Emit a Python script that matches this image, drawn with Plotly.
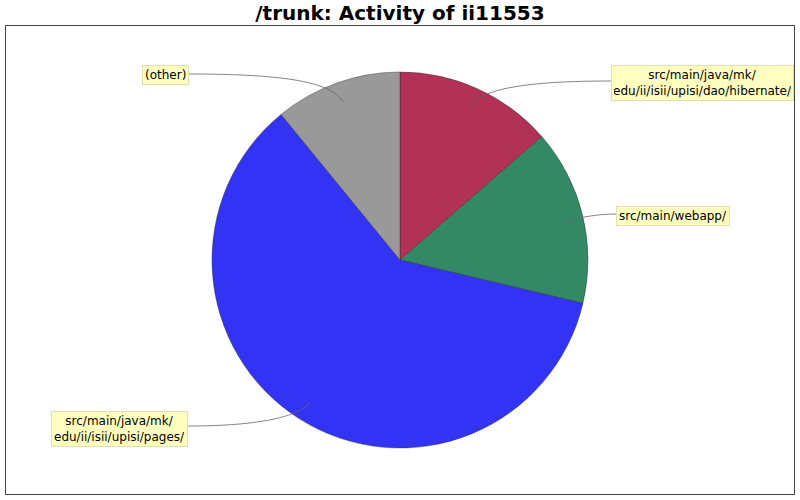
import plotly.graph_objects as go

# slice data (clockwise from 12 o'clock)
labels = [
    'src/main/java/mk/<br>edu/ii/isii/upisi/dao/hibernate/',
    'src/main/webapp/',
    'src/main/java/mk/<br>edu/ii/isii/upisi/pages/',
    '(other)',
]
values = [13.6, 15.1, 60.4, 10.9]
colors = ['#b23257', '#338866', '#3333f5', '#999999']

W, H = 800, 500
cx, cy, r = 400, 260, 188

fig = go.Figure()

fig.add_trace(go.Pie(
    labels=labels, values=values, sort=False, direction='clockwise', rotation=0,
    marker=dict(colors=colors, line=dict(color='rgba(40,40,40,0.7)', width=0.6)),
    textinfo='none', hoverinfo='label+percent', showlegend=False,
    domain=dict(x=[(cx - r) / W, (cx + r) / W], y=[1 - (cy + r) / H, 1 - (cy - r) / H]),
))

# empty trace so there is a pixel-like xy axis for labels and connectors
fig.add_trace(go.Scatter(x=[], y=[], showlegend=False))

# label boxes: (text, x, y, anchor, box width) and connector curves
label_pos = [
    (labels[0], 611, 65, 'left', 177),
    (labels[1], 616, 206, 'left', None),
    (labels[2], 188, 411, 'right', None),
    (labels[3], 189, 65, 'right', None),
]
connectors = [
    'M 611,81 C 525,81 480,89 470,107',
    'M 616,214 C 595,214 580,218 564,221',
    'M 188,426 C 262,426 300,416 310,402',
    'M 189,74 C 285,74 332,82 343,102',
]

for txt, x, y, anchor, w in label_pos:
    fig.add_annotation(
        x=x, y=y, xref='x', yref='y', text=txt, showarrow=False,
        xanchor=anchor, yanchor='top', align='center', width=w,
        bgcolor='#ffffc0', bordercolor='#e0e0b0', borderwidth=1, borderpad=2,
        font=dict(family='DejaVu Sans', size=12, color='#000000'),
    )

for p in connectors:
    fig.add_shape(type='path', path=p, xref='x', yref='y',
                  line=dict(color='#666666', width=0.8))

# chart frame
fig.add_shape(type='rect', x0=5.5, y0=25.5, x1=794.5, y1=494.5, xref='x', yref='y',
              line=dict(color='#444444', width=1), layer='below')

fig.update_layout(
    width=W, height=H,
    margin=dict(l=0, r=0, t=0, b=0),
    paper_bgcolor='white', plot_bgcolor='rgba(0,0,0,0)',
    title=dict(text='<b>/trunk: Activity of ii11553</b>', x=0.5, xanchor='center',
               y=1 - 13 / H, yanchor='middle',
               font=dict(family='DejaVu Sans', size=20, color='#000000')),
    xaxis=dict(range=[0, W], visible=False, domain=[0, 1], fixedrange=True),
    yaxis=dict(range=[H, 0], visible=False, domain=[0, 1], fixedrange=True),
)

# drop the default page margin so the figure sits at the window's top-left
fig.write_html('out.html', config={'displayModeBar': False},
               post_script="document.body.style.margin='0';")
